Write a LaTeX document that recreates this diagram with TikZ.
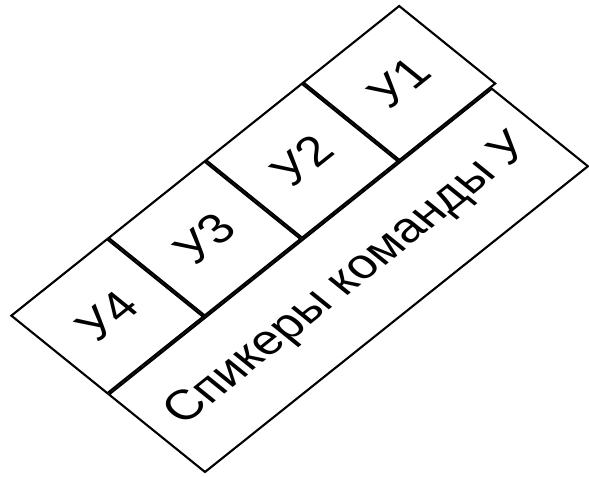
\documentclass[tikz,border=0pt]{standalone}
\usepackage{fontspec}
\setmainfont{Liberation Sans}
\usepackage{tikz}
\usetikzlibrary{positioning}

\begin{document}
\begin{tikzpicture}[
  cell/.style={draw,line width=1.2pt,minimum width=2.45cm,minimum height=2.4675cm,inner sep=0pt,font=\fontsize{27}{30}\selectfont},
  band/.style={draw,line width=1.2pt,minimum width=9.8cm,minimum height=2.4675cm,inner sep=0pt,font=\fontsize{27}{30}\selectfont},
]
\useasboundingbox (0,0) rectangle (11.78,9.54);
% flat strip seen at an angle
\begin{scope}[cm={0.7814,0.6239,-0.7781,0.6282,(4.10,0.10)},transform shape]
\node[band] (spk) at (4.9,1.23375) {Спикеры команды У};
\node[cell,anchor=south west] (u4) at (spk.north west) {У4};
\node[cell,right=0pt of u4] (u3) {У3};
\node[cell,right=0pt of u3] (u2) {У2};
\node[cell,right=0pt of u2] (u1) {У1};
\end{scope}
\end{tikzpicture}
\end{document}
